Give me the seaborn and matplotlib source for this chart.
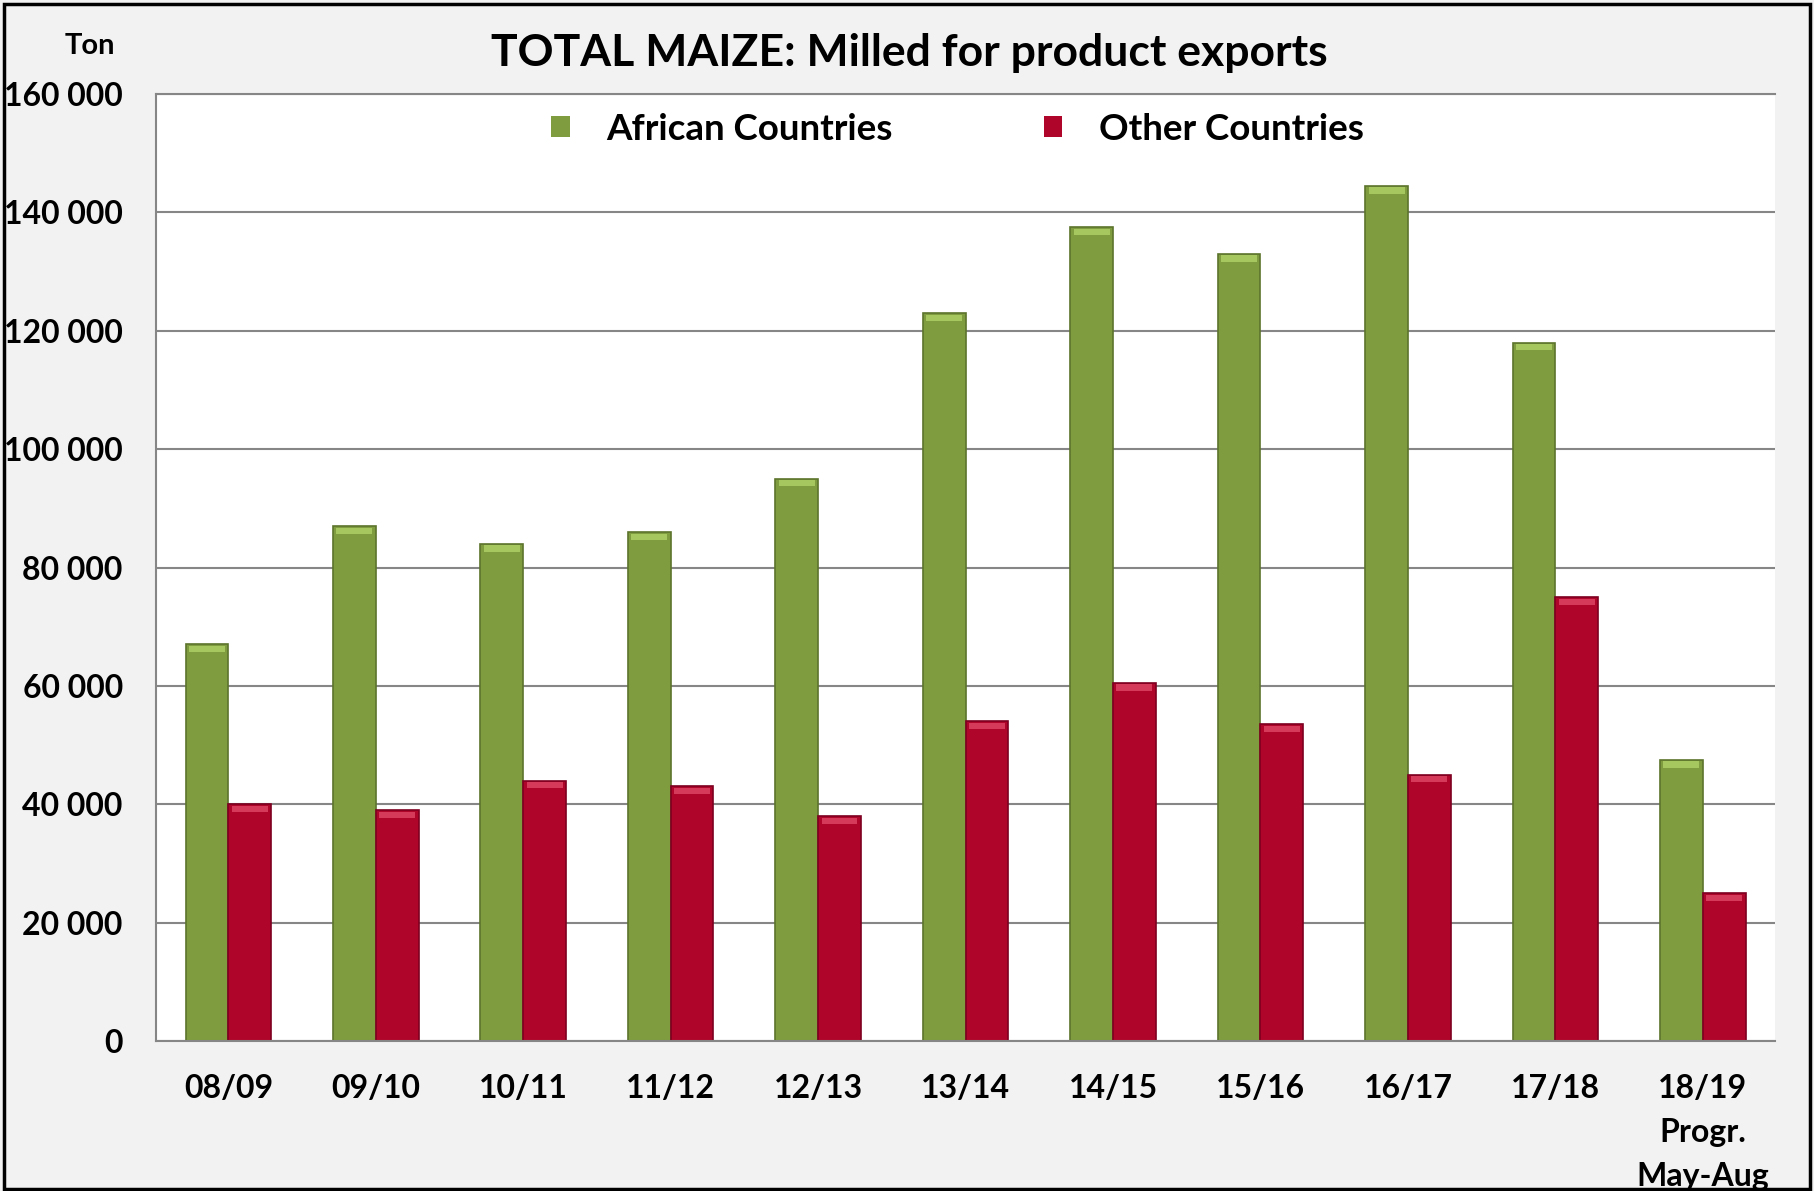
# Total maize milled for product exports, by season
import pandas as pd
import seaborn as sns
import matplotlib.pyplot as plt
from matplotlib.patches import Rectangle
from matplotlib.ticker import FuncFormatter

seasons = ["08/09", "09/10", "10/11", "11/12", "12/13", "13/14",
           "14/15", "15/16", "16/17", "17/18", "18/19\nProgr.\nMay-Aug"]
african = [67000, 87000, 84000, 86000, 95000, 123000,
           137500, 133000, 144500, 118000, 47500]
other = [40000, 39000, 44000, 43000, 38000, 54000,
         60500, 53500, 45000, 75000, 25000]
series_names = ["African Countries", "Other Countries"]

df = pd.DataFrame({
    "Season": seasons * 2,
    "Ton": african + other,
    "Group": [series_names[0]] * len(seasons) + [series_names[1]] * len(seasons),
})

sns.set_style("white")
plt.rcParams['font.family'] = ['Lato', 'DejaVu Sans']
plt.rcParams['font.weight'] = 'bold'

fig = plt.figure(figsize=(18.15, 11.91), dpi=100, facecolor="#f2f2f2")
ax = fig.add_axes([0.086, 0.126, 0.892, 0.795])
ax.set_facecolor("white")

sns.barplot(
    data=df, x="Season", y="Ton", hue="Group",
    palette=["#7f9c3f", "#b0052b"], width=0.58, ax=ax,
    saturation=1, linewidth=1.2, edgecolor="none",
)
# darker outline and a light top bevel, like the original's 3D-ish bars
bevel = 1300
for bars, ec, top in zip(ax.containers, ["#5c742c", "#7e0020"], ["#a6c760", "#d63a5a"]):
    for b in bars:
        b.set_edgecolor(ec)
        b.set_linewidth(1.2)
        ax.add_patch(Rectangle((b.get_x() + b.get_width() * 0.08, b.get_height() - bevel),
                               b.get_width() * 0.84, bevel * 0.8,
                               facecolor=top, edgecolor="none", zorder=b.get_zorder() + 0.1))

ax.set_ylim(0, 160000)
ax.set_xlim(-0.49, len(seasons) - 0.51)
ax.set_yticks(range(0, 160001, 20000))
ax.yaxis.set_major_formatter(FuncFormatter(lambda v, p: f"{int(v):,}".replace(",", " ")))
ax.grid(axis="y", color="#868686", linewidth=1.5)
ax.set_axisbelow(True)
ax.tick_params(axis="y", length=0, pad=24, labelsize=23)
ax.tick_params(axis="x", length=0, pad=24, labelsize=23)
for lbl in ax.get_xticklabels() + ax.get_yticklabels():
    lbl.set_fontweight("bold")
    lbl.set_color("black")
for lbl in ax.get_xticklabels():
    lbl.set_linespacing(1.62)
ax.set_xlabel("")
ax.set_ylabel("")
for side in ["left", "bottom", "top"]:
    ax.spines[side].set_color("#868686")
    ax.spines[side].set_linewidth(1.5)
ax.spines["right"].set_visible(False)

leg = ax.legend(
    loc="center", bbox_to_anchor=(0.495, 0.963), ncol=2, frameon=False,
    fontsize=26.5, handlelength=0.5, handleheight=0.5,
    handletextpad=1.0, columnspacing=4.1,
)
for t in leg.get_texts():
    t.set_fontweight("bold")
    t.set_color("black")

fig.text(0.501, 0.9555, "TOTAL MAIZE: Milled for product exports",
         ha="center", va="center", fontsize=32, fontweight="bold", color="black")
fig.text(0.0496, 0.961, "Ton", ha="center", va="center", fontsize=21,
         fontweight="bold", color="black")

fig.patches.append(Rectangle((0.002, 0.002), 0.995, 0.995, transform=fig.transFigure,
                             fill=False, edgecolor="black", linewidth=2.5))

fig.savefig("out.png", dpi=100, facecolor=fig.get_facecolor())
